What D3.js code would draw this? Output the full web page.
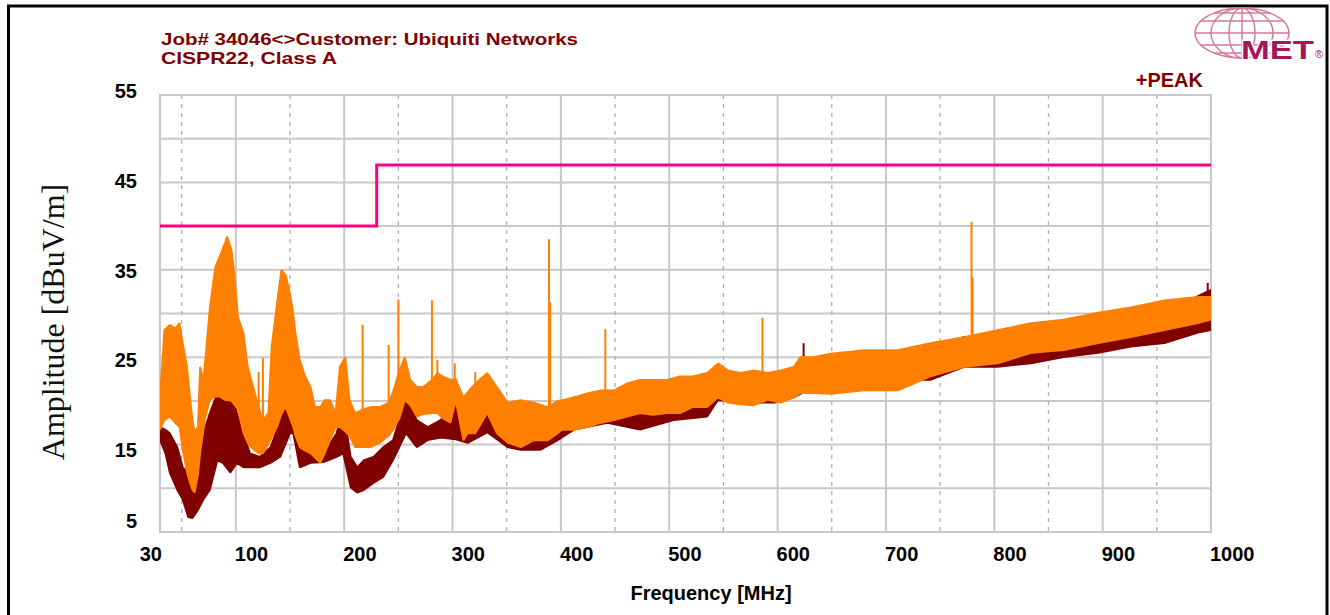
<!DOCTYPE html>
<html>
<head>
<meta charset="utf-8">
<script src="https://cdn.jsdelivr.net/npm/d3@7"></script>
<style>
  html, body { margin: 0; padding: 0; background: #fff; }
  svg { display: block; }
  text { font-family: "Liberation Sans", Arial, sans-serif; }
</style>
</head>
<body>
<div id="chart"></div>
<script>

// ---- data ----
var titleLines = ["Job# 34046<>Customer: Ubiquiti Networks", "CISPR22, Class A"]
var titleWidths = [417, 176]
var xTickLabels = [30, 100, 200, 300, 400, 500, 600, 700, 800, 900, 1000]
var yTickLabels = [55, 45, 35, 25, 15, 5]
var majorGrid = [100, 200, 300, 400, 500, 600, 700, 800, 900]
var minorGrid = [50, 150, 250, 350, 450, 550, 650, 750, 850, 950]
var hGrid = [10, 15, 20, 25, 30, 35, 40, 45, 50]

// class A limit line
var limitFreq = [30, 230, 230, 1000]
var limitLevel = [40, 40, 47, 47]

// +PEAK trace (orange), envelope of the noisy sweep
var orangeFreq = [30,34,39,44,48,51,55,58,60,62,65,67,70,72,76,81,85,90,92,96,99,102,107,111,114,116,121,125,130,133,138,142,146,150,153,155,159,164,169,173,178,182,187,192,196,201,205,210,217,224,233,241,245,251,256,261,267,273,282,286,291,298,303,310,314,321,332,341,351,363,375,388,397,401,412,425,437,449,461,473,485,498,510,522,535,545,554,566,578,591,603,615,621,633,649,680,711,741,772,803,834,864,896,926,957,988,1000]
var orangeLo = [16.7,17.8,18.2,17.5,17.0,14.4,11.8,10.5,9.8,9.5,11.5,14.0,16.5,18.2,20.1,20.5,20.5,20.1,20.1,20.0,19.5,19.0,16.3,15.2,14.7,14.5,14.0,14.0,15.0,15.8,17.0,18.5,19.3,18.0,17.0,16.0,14.7,14.3,14.0,13.5,12.9,14.0,15.5,17.0,17.0,16.5,16.0,14.7,14.7,14.7,15.2,16.0,16.7,18.0,20.1,19.5,18.2,18.5,18.6,18.6,18.0,17.5,20.0,15.5,16.3,16.3,18.6,16.3,15.2,14.7,15.5,15.5,16.3,16.7,16.7,17.0,17.5,17.8,18.2,18.6,18.4,18.6,18.6,19.3,19.3,20.4,19.8,19.6,19.5,20.1,19.8,20.4,20.9,20.9,20.8,21.2,21.2,22.8,23.9,24.3,25.5,25.8,26.6,27.3,28.1,28.9,29.3]
var orangeHi = [20.4,28.1,28.7,28.3,28.9,26.6,23.9,20.1,17.8,16.5,17.0,23.9,22.4,25.0,30.7,35.3,36.5,38.1,38.8,37.3,34.1,29.6,27.8,23.9,22.5,21.6,19.3,17.8,18.6,26.2,31.2,35.0,34.4,32.3,30.0,27.8,24.7,22.8,21.6,19.3,19.3,20.1,20.1,18.6,23.9,25.0,20.1,18.6,19.0,19.3,19.3,19.8,21.0,23.5,25.0,22.4,21.6,21.6,22.5,23.2,22.8,22.4,22.5,20.4,21.0,22.0,23.2,21.6,19.8,20.1,19.8,19.3,20.0,20.1,20.4,20.9,21.2,21.2,22.0,22.4,22.4,22.4,22.8,22.8,23.2,24.3,23.5,23.2,23.5,23.2,23.5,23.9,25.0,25.0,25.4,25.8,25.8,26.6,27.3,28.1,28.9,29.3,30.1,30.7,31.5,31.9,31.9]

// narrow carriers on the orange trace
var spikeFreq = [121, 125, 217, 241, 250, 281, 286, 302, 321, 389, 390, 441, 586, 779, 780]
var spikeTop = [23.3, 24.9, 28.7, 26.4, 31.6, 31.5, 24.7, 24.3, 23.3, 38.5, 31.3, 28.2, 29.5, 40.5, 34.1]

// second trace (dark red)
var redFreq = [30,35,39,46,51,56,60,65,70,76,83,88,95,101,107,113,122,132,141,150,153,159,169,181,193,199,206,212,218,227,236,245,257,267,277,289,303,314,332,351,363,381,397,412,443,473,504,535,545,566,597,615,633,649,680,711,741,772,803,834,864,896,926,957,988,1000]
var redLo = [15.5,14.0,11.8,9.8,8.7,6.7,6.6,7.5,8.7,9.8,13.2,12.9,11.8,12.9,12.4,12.4,12.4,12.9,13.6,16.3,16.3,12.4,12.9,13.0,13.6,14.0,10.1,9.5,9.8,10.6,11.3,13.2,16.3,14.7,15.5,15.8,15.6,15.2,16.4,14.7,14.4,14.4,15.5,16.7,17.5,16.7,17.8,18.2,20.1,19.8,19.8,20.4,21.6,22.0,21.6,22.4,22.4,23.9,23.9,24.3,25.0,25.5,26.2,26.6,27.8,28.1]
var redHi = [17.0,16.7,16.3,14.7,12.4,11.8,10.1,12.4,16.3,18.6,20.9,25.5,22.0,18.6,16.3,14.0,13.6,14.7,17.8,22.4,20.1,15.5,14.7,14.0,16.3,19.3,13.6,12.4,13.2,13.6,14.7,15.5,20.4,17.8,17.0,17.8,20.1,16.5,18.6,16.3,16.0,16.3,17.0,20.4,20.9,21.6,22.4,22.8,23.5,23.0,23.0,23.6,24.6,25.0,25.2,25.3,26.2,27.3,27.7,27.7,28.5,29.3,29.3,30.1,32.0,32.7]
var redSpikeFreq = [624, 997]
var redSpikeTop = [26.6, 33.5]

// ---- layout ----
var W = 1330, H = 615
var plot = {left: 160, right: 1211, top: 95, bottom: 532}
var gridColor = "#c8c8c8"
var orange = "#ff8000", darkRed = "#800000", limitColor = "#ff0080"

var svg = d3.select("#chart").append("svg")
    .attr("width", W)
    .attr("height", H)

var x = d3.scaleLinear().domain([30, 1000]).range([plot.left, plot.right])
var y = d3.scaleLinear().domain([5, 55]).range([plot.bottom, plot.top])

// outer frame (bottom edge is off the picture)
svg.append("rect")
    .attr("x", 8.5).attr("y", 6)
    .attr("width", 1318.5).attr("height", 650)
    .attr("fill", "none")
    .attr("stroke", "#000")
    .attr("stroke-width", 3)

svg.append("defs").append("clipPath").attr("id", "plotclip")
    .append("rect")
    .attr("x", plot.left).attr("y", plot.top)
    .attr("width", plot.right - plot.left).attr("height", plot.bottom - plot.top)

// grid
var grid = svg.append("g")
grid.selectAll(".hgrid").data(hGrid).enter().append("line")
    .attr("x1", plot.left).attr("x2", plot.right)
    .attr("y1", function(d) { return y(d) }).attr("y2", function(d) { return y(d) })
    .attr("stroke", gridColor).attr("stroke-width", 2)
grid.selectAll(".vmajor").data(majorGrid).enter().append("line")
    .attr("x1", function(d) { return x(d) }).attr("x2", function(d) { return x(d) })
    .attr("y1", plot.top).attr("y2", plot.bottom)
    .attr("stroke", gridColor).attr("stroke-width", 2)
grid.selectAll(".vminor").data(minorGrid).enter().append("line")
    .attr("x1", function(d) { return x(d) }).attr("x2", function(d) { return x(d) })
    .attr("y1", plot.top).attr("y2", plot.bottom)
    .attr("stroke", "#b0b0b0").attr("stroke-width", 1.3)
    .attr("stroke-dasharray", "4,5")
grid.append("rect")
    .attr("x", plot.left).attr("y", plot.top)
    .attr("width", plot.right - plot.left).attr("height", plot.bottom - plot.top)
    .attr("fill", "none").attr("stroke", gridColor).attr("stroke-width", 2)

// traces
var band = d3.area()
    .x(function(d) { return x(d.f) })
    .y0(function(d) { return y(d.lo) })
    .y1(function(d) { return y(d.hi) })

var redRows = redFreq.map(function(f, i) { return {f: f, lo: redLo[i], hi: redHi[i]} })
var orangeRows = orangeFreq.map(function(f, i) { return {f: f, lo: orangeLo[i], hi: orangeHi[i]} })

var traces = svg.append("g").attr("clip-path", "url(#plotclip)")

function nearest(freqs, f) {
    var i = d3.bisectLeft(freqs, f)
    if (i >= freqs.length) return freqs.length - 1
    if (i > 0 && f - freqs[i - 1] < freqs[i] - f) return i - 1
    return i
}

traces.append("path")
    .datum(redRows)
    .attr("d", band)
    .attr("fill", darkRed)
    .attr("stroke", darkRed)
    .attr("stroke-width", 1.8)
    .attr("stroke-linejoin", "bevel")

traces.selectAll(".rspike").data(redSpikeFreq).enter().append("line")
    .attr("x1", function(d) { return x(d) }).attr("x2", function(d) { return x(d) })
    .attr("y1", function(d, i) { return y(redSpikeTop[i]) })
    .attr("y2", function(d) { return y(redHi[nearest(redFreq, d)] - 1) })
    .attr("stroke", darkRed).attr("stroke-width", 2)

traces.append("path")
    .datum(orangeRows)
    .attr("d", band)
    .attr("fill", orange)
    .attr("stroke", orange)
    .attr("stroke-width", 1.8)
    .attr("stroke-linejoin", "bevel")

traces.selectAll(".ospike").data(spikeFreq).enter().append("line")
    .attr("x1", function(d) { return x(d) }).attr("x2", function(d) { return x(d) })
    .attr("y1", function(d, i) { return y(spikeTop[i]) })
    .attr("y2", function(d) { return y(orangeHi[nearest(orangeFreq, d)] - 1) })
    .attr("stroke", orange).attr("stroke-width", 2)

// limit
var limitLine = d3.line()
    .x(function(d) { return x(d[0]) })
    .y(function(d) { return y(d[1]) })
svg.append("path")
    .datum(limitFreq.map(function(f, i) { return [f, limitLevel[i]] }))
    .attr("d", limitLine)
    .attr("fill", "none")
    .attr("stroke", limitColor)
    .attr("stroke-width", 3)

// tick labels
svg.selectAll(".xlab").data(xTickLabels).enter().append("text")
    .attr("x", function(d, i) { return i == 0 ? x(d) + 2 : x(d) - 1 })
    .attr("y", 561)
    .attr("text-anchor", function(d, i) { return i == 0 ? "end" : "start" })
    .style("font-size", "20px").style("font-weight", "bold")
    .attr("fill", "#000")
    .text(function(d) { return d })

// the labels on this printout sit on their own even spacing, last one pinned to the bottom
var yLab = d3.scaleLinear().domain([55, 15]).range([98, 457])
svg.selectAll(".ylab").data(yTickLabels).enter().append("text")
    .attr("x", 137)
    .attr("y", function(d) { return Math.min(yLab(d), 528) })
    .attr("text-anchor", "end")
    .style("font-size", "20px").style("font-weight", "bold")
    .attr("fill", "#000")
    .text(function(d) { return d })

// axis titles
svg.append("text")
    .attr("x", 711).attr("y", 600)
    .attr("text-anchor", "middle")
    .style("font-size", "20px").style("font-weight", "bold")
    .attr("fill", "#000")
    .text("Frequency [MHz]")

svg.append("text")
    .attr("transform", "translate(64,322)rotate(-90)")
    .attr("text-anchor", "middle")
    .style("font-family", "'Liberation Serif', 'Times New Roman', serif")
    .style("font-size", "32px")
    .attr("fill", "#111")
    .text("Amplitude [dBuV/m]")

// header
svg.selectAll(".title").data(titleLines).enter().append("text")
    .attr("x", 161)
    .attr("y", function(d, i) { return 45 + i * 19 })
    .attr("textLength", function(d, i) { return titleWidths[i] })
    .attr("lengthAdjust", "spacingAndGlyphs")
    .style("font-size", "17px").style("font-weight", "bold")
    .attr("fill", darkRed)
    .text(function(d) { return d })

svg.append("text")
    .attr("x", 1203).attr("y", 87)
    .attr("text-anchor", "end")
    .style("font-size", "20px").style("font-weight", "bold")
    .attr("fill", darkRed)
    .text("+PEAK")

// MET logo
var logo = svg.append("g").attr("transform", "translate(1242,33)")
var globe = "#d4789c"
;[47, 31, 13].forEach(function(rx) {
    logo.append("ellipse").attr("rx", rx).attr("ry", 25)
        .attr("fill", "none").attr("stroke", globe).attr("stroke-width", 1.4)
})
logo.append("line").attr("x1", 0).attr("x2", 0).attr("y1", -25).attr("y2", 25)
    .attr("stroke", globe).attr("stroke-width", 1.4)
;[-20, -12, 0, 12, 20].forEach(function(dy) {
    var hw = 47 * Math.sqrt(1 - (dy / 25) * (dy / 25))
    logo.append("line").attr("x1", -hw).attr("x2", hw).attr("y1", dy).attr("y2", dy)
        .attr("stroke", globe).attr("stroke-width", 1.4)
})
svg.append("text")
    .attr("x", 1241).attr("y", 59)
    .attr("textLength", 73).attr("lengthAdjust", "spacingAndGlyphs")
    .style("font-size", "26px").style("font-weight", "900")
    .attr("fill", "#a3175a")
    .attr("stroke", "#fff").attr("stroke-width", 2.5)
    .style("paint-order", "stroke")
    .text("MET")
svg.append("text")
    .attr("x", 1315).attr("y", 58)
    .style("font-size", "11px")
    .attr("fill", "#a3175a")
    .text("\u00ae")

</script>
</body>
</html>
